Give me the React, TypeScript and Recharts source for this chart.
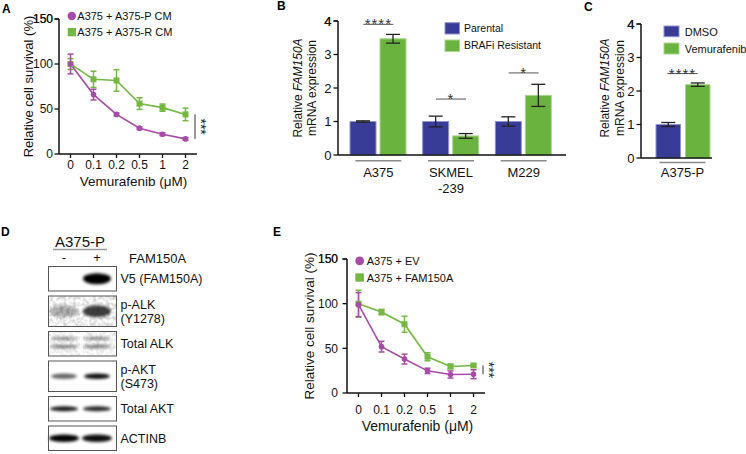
import React from 'react';
import { LineChart, Line, BarChart, Bar, XAxis, YAxis, ErrorBar, ReferenceLine, Label } from 'recharts';

const FONT = '"Liberation Sans", Arial, Helvetica, sans-serif';
const INK = '#111111';
const PURPLE = '#a64ca6';
const GREEN = '#74b843';
const BAR_BLUE = '#393c97';
const BAR_GREEN = '#6ab33e';

// ---------- shared ----------
const doses = ['0', '0.1', '0.2', '0.5', '1', '2'];
const survivalTicks = [0, 50, 100, 150];
const exprTicks = [0, 1, 2, 3, 4];

// ---------- panel A ----------
const aNames = ['A375 + A375-P CM', 'A375 + A375-R CM'];
const aParentalCM = [100, 66, 44, 28.7, 22, 16.8];
const aParentalCMErr = [11, 6, 1.5, 1.5, 1.5, 1.5];
const aResistantCM = [100, 83, 81.7, 56, 51.5, 44];
const aResistantCMErr = [6, 9, 12, 6.5, 4, 7];
const aSig = '***';

// ---------- panel E ----------
const eNames = ['A375 + EV', 'A375 + FAM150A'];
const eEV = [98.9, 51.9, 38, 24.8, 20.7, 21];
const eEVErr = [13.5, 6, 5.5, 3, 4, 5];
const eFAM = [100, 90.6, 77, 40.6, 29.7, 30.8];
const eFAMErr = [15, 3, 9, 4.5, 2.6, 1.5];
const eSig = '***';

// ---------- panel B ----------
const bNames = ['Parental', 'BRAFi Resistant'];
const bLines = ['A375', 'SKMEL\n-239', 'M229'];
const bParental = [1, 1, 1];
const bParentalErr = [0.02, 0.16, 0.14];
const bResistant = [3.47, 0.57, 1.78];
const bResistantErr = [0.13, 0.07, 0.33];
const bSigHeight = [3.9, 1.67, 2.45];
const bSigLabel = ['****', '*', '*'];

// ---------- panel C ----------
const cNames = ['DMSO', 'Vemurafenib'];
const cLines = ['A375-P'];
const cDMSO = [1];
const cDMSOErr = [0.06];
const cVem = [2.19];
const cVemErr = [0.05];
const cSigHeight = [2.52];
const cSigLabel = ['****'];

// ---------- panel D ----------
const dCellLine = 'A375-P';
const dLanes = ['-', '+'];
const dTreatment = 'FAM150A';
const dRows = [['V5 (FAM150A)'], ['p-ALK', '(Y1278)'], ['Total ALK'], ['p-AKT', '(S473)'], ['Total AKT'], ['ACTINB']];
const dMinus = [0, 0.3, 0.5, 0.6, 0.9, 1];
const dPlus = [1, 0.75, 0.5, 0.95, 0.85, 0.95];

const dataA = doses.map((dose, i) => ({ dose, s1: aParentalCM[i], s1Err: aParentalCMErr[i], s2: aResistantCM[i], s2Err: aResistantCMErr[i] }));
const dataE = doses.map((dose, i) => ({ dose, s1: eEV[i], s1Err: eEVErr[i], s2: eFAM[i], s2Err: eFAMErr[i] }));
const dataB = bLines.map((line, i) => ({ line, p: bParental[i], pErr: bParentalErr[i], r: bResistant[i], rErr: bResistantErr[i], sig: bSigHeight[i], sigLabel: bSigLabel[i] }));
const dataC = cLines.map((line, i) => ({ line, p: cDMSO[i], pErr: cDMSOErr[i], r: cVem[i], rErr: cVemErr[i], sig: cSigHeight[i], sigLabel: cSigLabel[i] }));

const vSigShape = (label: string, dx: number) => (props: any) => {
  const { x1, y1, y2 } = props;
  const x = x1 + dx;
  return (
    <g>
      <line x1={x} x2={x} y1={y1} y2={y2} stroke="#333" strokeWidth={1} />
      <text transform={`translate(${x + 1},${(y1 + y2) / 2}) rotate(90)`} textAnchor="middle" fontSize={14} fill="#222">{label}</text>
    </g>
  );
};

const hSigShape = (label: string) => (props: any) => {
  const { x1, y1 } = props;
  return (
    <g>
      <line x1={x1 - 15} x2={x1 + 15} y1={y1} y2={y1} stroke="#555" strokeWidth={1} />
      <text x={x1} y={y1 + 5} textAnchor="middle" fontSize={15} letterSpacing={1} fill="#333">{label}</text>
    </g>
  );
};

const yTick = (size: number) => (tp: any) => (
  <text x={tp.x} y={tp.y} dy={size * 0.36} textAnchor="end" fontSize={size} fill={INK}>{tp.payload.value}</text>
);

// The axis can drop the tick that lies exactly on its top end (domain max = last tick);
// redraw it at the top of the plot area, beside the axis line.
const TopTick = ({ ax, ay, label, tickSize, tickMargin, fontSize }: any) => (
  <g>
    <line x1={ax - tickSize} x2={ax} y1={ay} y2={ay} stroke={INK} strokeWidth={1.3} />
    <text x={ax - tickSize - tickMargin} y={ay} dy={fontSize * 0.36} textAnchor="end" fontSize={fontSize} fill={INK}>{label}</text>
  </g>
);

function SurvivalChart(p: any) {
  const last = p.data[p.data.length - 1];
  const top = survivalTicks[survivalTicks.length - 1];
  return (
    <LineChart width={p.width} height={p.height} data={p.data} margin={p.margin}>
      <XAxis dataKey="dose" type="category" interval={0} height={30} tickSize={4} tickMargin={p.xTickMargin}
        padding={{ left: 11.5, right: 11.5 }}
        axisLine={{ stroke: INK, strokeWidth: 1.5 }} tickLine={{ stroke: INK, strokeWidth: 1.3 }} tick={{ fontSize: 12, fill: INK }}>
        <Label content={(lp: any) => {
          const vb = lp.viewBox || {};
          return <text x={vb.x + vb.width / 2 + p.xTitleDx} y={vb.y + p.xTitleBase} textAnchor="middle" fontSize={p.xTitleSize} fill={INK}>Vemurafenib (μM)</text>;
        }} />
      </XAxis>
      <YAxis type="number" domain={[0, top]} ticks={survivalTicks} interval={0} width={p.yWidth} tickSize={4.5} tickMargin={p.yTickMargin}
        axisLine={{ stroke: INK, strokeWidth: 1.5 }} tickLine={{ stroke: INK, strokeWidth: 1.3 }} tick={yTick(12)}>
        <Label content={(lp: any) => {
          const vb = lp.viewBox || {};
          return (
            <g>
              <text transform={`translate(${p.yTitleX},${vb.y + vb.height / 2}) rotate(-90)`} textAnchor="middle" dominantBaseline="central" fontSize={p.yTitleSize} fill={INK}>Relative cell survival (%)</text>
              <TopTick ax={p.margin.left + p.yWidth} ay={p.margin.top} label={String(top)} tickSize={4.5} tickMargin={p.yTickMargin} fontSize={12} />
            </g>
          );
        }} />
      </YAxis>
      <Line dataKey="s2" stroke={GREEN} strokeWidth={1.6} isAnimationActive={false}
        dot={(d: any) => <rect key={`g${d.index}`} x={d.cx - 3} y={d.cy - 3} width={6} height={6} fill={GREEN} />}>
        <ErrorBar dataKey="s2Err" width={3} stroke={GREEN} strokeWidth={1.5} direction="y" />
      </Line>
      <Line dataKey="s1" stroke={PURPLE} strokeWidth={1.6} isAnimationActive={false}
        dot={(d: any) => <circle key={`p${d.index}`} cx={d.cx} cy={d.cy} r={2.8} fill={PURPLE} />}>
        <ErrorBar dataKey="s1Err" width={3} stroke={PURPLE} strokeWidth={1.5} direction="y" />
      </Line>
      <ReferenceLine segment={[{ x: last.dose, y: last.s2 }, { x: last.dose, y: last.s1 }]} shape={vSigShape(p.sig, 9.5)} />
    </LineChart>
  );
}

const groupTick = (underOff: number, baseOff: number) => (props: any) => {
  const { x, y, payload } = props;
  const lines = String(payload.value).split('\n');
  return (
    <g>
      <line x1={x - 23} x2={x + 23} y1={y + underOff} y2={y + underOff} stroke="#8a8a8a" strokeWidth={1.4} />
      {lines.map((l, i) => (
        <text key={i} x={x} y={y + baseOff + i * 16} textAnchor="middle" fontSize={13} fill={INK}>{l}</text>
      ))}
    </g>
  );
};

function ExprChart(p: any) {
  const top = exprTicks[exprTicks.length - 1];
  return (
    <BarChart width={p.width} height={p.height} data={p.data} margin={p.margin} barSize={p.barSize} barGap={p.barGap}>
      <XAxis dataKey="line" type="category" interval={0} height={p.xHeight} tickSize={0} tickMargin={0} tickLine={false}
        padding={p.xPadding} axisLine={{ stroke: INK, strokeWidth: 1.5 }} tick={groupTick(p.underOff, p.baseOff)} />
      <YAxis type="number" domain={[0, top]} ticks={exprTicks} interval={0} width={p.yWidth} tickSize={4.5} tickMargin={2}
        axisLine={{ stroke: INK, strokeWidth: 1.5 }} tickLine={{ stroke: INK, strokeWidth: 1.3 }} tick={yTick(13)}>
        <Label content={(lp: any) => {
          const vb = lp.viewBox || {};
          const cy = vb.y + vb.height / 2 + p.yTitleDy;
          return (
            <g>
              <text transform={`translate(${p.yTitleX1},${cy}) rotate(-90)`} textAnchor="middle" dominantBaseline="central" fontSize={12} fill={INK}>
                Relative <tspan fontStyle="italic">FAM150A</tspan>
              </text>
              <text transform={`translate(${p.yTitleX2},${cy}) rotate(-90)`} textAnchor="middle" dominantBaseline="central" fontSize={12} fill={INK}>mRNA expression</text>
              <TopTick ax={p.margin.left + p.yWidth} ay={p.margin.top} label={String(top)} tickSize={4.5} tickMargin={2} fontSize={13} />
            </g>
          );
        }} />
      </YAxis>
      <Bar dataKey="p" fill={BAR_BLUE} stroke="#8f92cc" strokeWidth={1} isAnimationActive={false}>
        <ErrorBar dataKey="pErr" width={7} stroke="#222" strokeWidth={1.3} direction="y" />
      </Bar>
      <Bar dataKey="r" fill={BAR_GREEN} stroke="#a9d68c" strokeWidth={1} isAnimationActive={false}>
        <ErrorBar dataKey="rErr" width={7} stroke="#222" strokeWidth={1.3} direction="y" />
      </Bar>
      {p.data.map((d: any) => (
        <ReferenceLine key={d.line} segment={[{ x: d.line, y: d.sig }, { x: d.line, y: d.sig }]} shape={hSigShape(d.sigLabel)} />
      ))}
    </BarChart>
  );
}

const BAND_STYLE = [
  { rx: 14, ry: 5.5 },
  { rx: 14, ry: 6 },
  { rx: 14, ry: 1.4, double: true },
  { rx: 13, ry: 2.8 },
  { rx: 14, ry: 2.6 },
  { rx: 15, ry: 3.8 },
];

function Blot() {
  const boxX = 48.5, boxW = 68, laneX = [64, 97];
  const gap = 5, h1 = 24.5, h2 = 30.5;
  let top = 46.5;
  const rows = dRows.map((labels, i) => {
    const h = labels.length > 1 ? h2 : h1;
    const r = { labels, top, h, i };
    top += h + gap;
    return r;
  });
  const vals = [dMinus, dPlus];
  return (
    <svg width={250} height={234} style={{ position: 'absolute', left: 0, top: 220, fontFamily: FONT }}>
      <defs>
        <filter id="bandBlur" x="-40%" y="-300%" width="180%" height="700%">
          <feGaussianBlur stdDeviation="1.6" />
        </filter>
        <filter id="grain" x="0" y="0" width="100%" height="100%">
          <feTurbulence type="fractalNoise" baseFrequency="0.3" numOctaves="2" seed="4" result="t" />
          <feColorMatrix in="t" type="matrix" values="0 0 0 0 0  0 0 0 0 0  0 0 0 0 0  0 0 0 -2 1.3" />
        </filter>
      </defs>
      <text x={80} y={26.7} textAnchor="middle" fontSize={15} fill={INK}>{dCellLine}</text>
      <line x1={53} x2={107} y1={29.5} y2={29.5} stroke="#9a9a9a" strokeWidth={1.5} />
      {dLanes.map((l, j) => (
        <text key={l} x={laneX[j]} y={42} textAnchor="middle" fontSize={13} fill={INK}>{l}</text>
      ))}
      <text x={129} y={42.5} fontSize={13} fill={INK}>{dTreatment}</text>
      {rows.map((r) => {
        const st = BAND_STYLE[r.i];
        const cy = r.top + r.h / 2;
        return (
          <g key={r.i}>
            {(r.i === 1 || r.i === 2) && (
              <rect x={boxX} y={r.top} width={boxW} height={r.h} fill="#000" opacity={r.i === 1 ? 0.22 : 0.15} filter="url(#grain)" />
            )}
            {r.i === 2 && <rect x={80} y={r.top} width={3} height={r.h} fill="#fff" opacity={0.8} />}
            {laneX.map((lx, j) => {
              const v = vals[j][r.i];
              if (v <= 0) return null;
              if (st.double) {
                return (
                  <g key={j} filter="url(#bandBlur)">
                    <ellipse cx={lx} cy={r.top + 7} rx={st.rx} ry={st.ry} fill="#000" opacity={v} />
                    <ellipse cx={lx} cy={r.top + 15} rx={st.rx} ry={st.ry + 0.4} fill="#000" opacity={v} />
                  </g>
                );
              }
              return <ellipse key={j} cx={lx} cy={cy} rx={st.rx} ry={st.ry} fill="#000" opacity={v} filter="url(#bandBlur)" />;
            })}
            <rect x={boxX} y={r.top} width={boxW} height={r.h} fill="none" stroke="#555" strokeWidth={1} />
            {r.labels.map((lab, k) => {
              const base = r.labels.length > 1 ? cy + (k === 0 ? -7 : 7) + 4.5 : cy + 4.5;
              return <text key={k} x={120.5} y={base} fontSize={12.5} fill={INK}>{lab}</text>;
            })}
          </g>
        );
      })}
    </svg>
  );
}

export default function App() {
  return (
    <div style={{ position: 'absolute', left: 0, top: 0, width: 746, height: 454, overflow: 'hidden', background: '#fff', fontFamily: FONT }}>
      <div style={{ position: 'absolute', left: 0, top: 0 }}>
        <SurvivalChart data={dataA} sig={aSig} width={260} height={200} margin={{ top: 19, right: 63, bottom: 16, left: 0 }}
          yWidth={59} xTickMargin={2.5} yTickMargin={1.5} xTitleDx={5.5} xTitleBase={32} xTitleSize={13.5} yTitleX={28} yTitleSize={13} />
      </div>
      <div style={{ position: 'absolute', left: 260, top: 220 }}>
        <SurvivalChart data={dataE} sig={eSig} width={260} height={220} margin={{ top: 39, right: 35, bottom: 17, left: 0 }}
          yWidth={87} xTickMargin={8} yTickMargin={4.5} xTitleDx={1.5} xTitleBase={37.5} xTitleSize={14} yTitleX={49} yTitleSize={13.5} />
      </div>
      <div style={{ position: 'absolute', left: 260, top: 0 }}>
        <ExprChart data={dataB} width={320} height={200} margin={{ top: 21, right: 14, bottom: 5, left: 0 }}
          barSize={26} barGap={4} xHeight={40} xPadding={{ left: 4, right: 6 }} underOff={5.7} baseOff={21.7}
          yWidth={78} yTitleX1={38} yTitleX2={52} yTitleDy={0} />
      </div>
      <div style={{ position: 'absolute', left: 580, top: 0 }}>
        <ExprChart data={dataC} width={166} height={200} margin={{ top: 24, right: 34, bottom: 5, left: 0 }}
          barSize={24.5} barGap={5} xHeight={37} xPadding={{ left: 12, right: 0 }} underOff={4.5} baseOff={18.5}
          yWidth={61} yTitleX1={24.5} yTitleX2={39.5} yTitleDy={-3} />
      </div>
      <Blot />
      <svg width={746} height={454} style={{ position: 'absolute', left: 0, top: 0, pointerEvents: 'none', fontFamily: FONT }}>
        <g fontWeight="bold" fontSize={12} fill="#000">
          <text x={2} y={13.3}>A</text>
          <text x={277} y={10.3}>B</text>
          <text x={584} y={10.7}>C</text>
          <text x={1} y={236}>D</text>
          <text x={273} y={236}>E</text>
        </g>
        <circle cx={71.8} cy={16} r={4.2} fill={PURPLE} />
        <text x={77.3} y={20} fontSize={11} fill={INK}>{aNames[0]}</text>
        <rect x={67.7} y={28} width={8.3} height={8.3} fill={GREEN} />
        <text x={77.3} y={36} fontSize={11} fill={INK}>{aNames[1]}</text>
        <circle cx={359.7} cy={260.8} r={4.4} fill={PURPLE} />
        <text x={366.7} y={265} fontSize={11} fill={INK}>{eNames[0]}</text>
        <rect x={355.3} y={273.3} width={8.6} height={8.4} fill={GREEN} />
        <text x={366.7} y={281.7} fontSize={11} fill={INK}>{eNames[1]}</text>
        <rect x={445} y={22.7} width={14.5} height={11.3} fill={BAR_BLUE} stroke="#8f92cc" strokeWidth={1} />
        <text x={464} y={32.3} fontSize={10.5} fill={INK}>{bNames[0]}</text>
        <rect x={445} y={40} width={14.5} height={11.5} fill={BAR_GREEN} stroke="#a9d68c" strokeWidth={1} />
        <text x={464} y={49.4} fontSize={10.5} fill={INK}>{bNames[1]}</text>
        <rect x={664} y={26} width={15} height={10.7} fill={BAR_BLUE} stroke="#8f92cc" strokeWidth={1} />
        <text x={684.7} y={35.5} fontSize={11} fill={INK}>{cNames[0]}</text>
        <rect x={664} y={43} width={15} height={11} fill={BAR_GREEN} stroke="#a9d68c" strokeWidth={1} />
        <text x={684.7} y={52.8} fontSize={11} fill={INK}>{cNames[1]}</text>
      </svg>
    </div>
  );
}
